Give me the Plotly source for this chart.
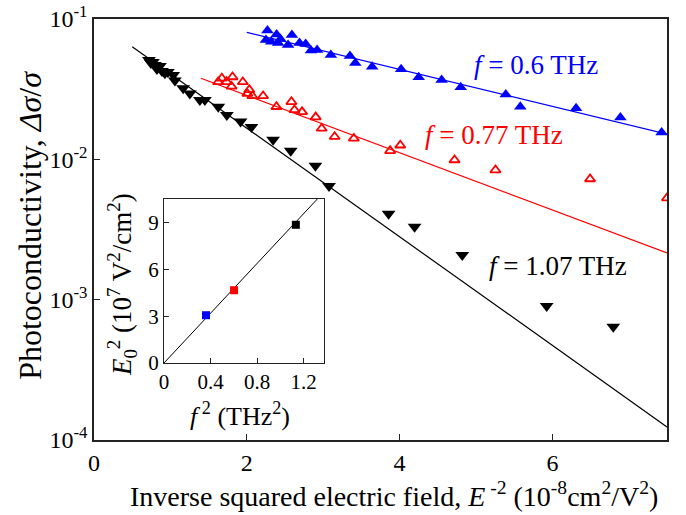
import plotly.graph_objects as go

# ---- main data ----
blue_x = [2.27, 2.39, 2.32, 2.44, 2.59, 2.54, 2.69, 2.84, 2.92, 3.10, 3.35, 3.42, 3.64,
          4.02, 4.25, 4.55, 4.80, 5.39, 5.58, 6.31, 6.89, 7.43, 2.25, 2.41, 2.77]
blue_y = [0.0828, 0.0776, 0.0689, 0.0720, 0.0769, 0.0653, 0.0675, 0.0596, 0.0601, 0.0554,
          0.0544, 0.0485, 0.0457, 0.0438, 0.0384, 0.0367, 0.0326, 0.0290, 0.0237, 0.0231,
          0.0199, 0.0155, 0.0708, 0.0675, 0.0664]

red_x = [1.625, 1.673, 1.735, 1.813, 1.800, 1.948, 2.033, 2.007, 2.072, 2.213, 2.388, 2.584,
         2.624, 2.723, 2.902, 2.980, 3.150, 3.401, 3.876, 4.009, 4.719, 5.255, 6.493, 7.50]
red_y = [0.0356, 0.0378, 0.0357, 0.0386, 0.0331, 0.0356, 0.0313, 0.0294, 0.0283, 0.0283,
         0.0237, 0.0257, 0.0225, 0.0218, 0.0200, 0.0166, 0.0145, 0.0141, 0.0115, 0.0126,
         0.00989, 0.00839, 0.00724, 0.00530]

black_x = [0.719, 0.745, 0.771, 0.797, 0.824, 0.863, 0.889, 0.928, 0.967, 1.037, 1.059, 1.167,
           1.255, 1.386, 1.451, 1.627, 1.739, 1.918, 2.061, 2.344, 2.575, 2.898, 3.076, 3.856,
           4.196, 4.820, 5.925, 6.797]
black_y = [0.0510, 0.0485, 0.0494, 0.0470, 0.0440, 0.0463, 0.0426, 0.0410, 0.0419, 0.0399,
           0.0364, 0.0321, 0.0295, 0.0265, 0.0265, 0.0237, 0.0207, 0.0186, 0.0170, 0.0138,
           0.0115, 0.00900, 0.00645, 0.00409, 0.00331, 0.00208, 0.000900, 0.000641]

# fit lines (end points)
fit_blue_x = [2.0, 7.5]
fit_blue_y = [0.0804, 0.0151]
fit_red_x = [1.40, 7.5]
fit_red_y = [0.0378, 0.00215]
fit_black_x = [0.5, 7.5]
fit_black_y = [0.0635, 0.000124]

# ---- inset data ----
inset_f2 = [0.361, 0.602, 1.133]
inset_E2 = [3.06, 4.66, 8.85]
inset_colors = ["#0000ff", "#ff0000", "#000000"]
inset_fit_x = [0, 1.32]
inset_fit_y = [0, 10.52]

x_ticks = [0, 2, 4, 6]
y_tickvals = [1e-4, 1e-3, 1e-2, 1e-1]
y_ticktext = ["10<sup>-4</sup>", "10<sup>-3</sup>", "10<sup>-2</sup>", "10<sup>-1</sup>"]
inset_xticks = [0, 0.4, 0.8, 1.2]
inset_xticktext = ["0", "0.4", "0.8", "1.2"]
inset_yticks = [0, 3, 6, 9]

FONT = "Liberation Serif, Times New Roman, serif"
AX = "#222222"

fig = go.Figure()

fig.add_trace(go.Scatter(x=fit_blue_x, y=fit_blue_y, mode="lines",
                         line=dict(color="#0000ff", width=1.2), showlegend=False))
fig.add_trace(go.Scatter(x=fit_red_x, y=fit_red_y, mode="lines",
                         line=dict(color="#ff0000", width=1.2), showlegend=False))
fig.add_trace(go.Scatter(x=fit_black_x, y=fit_black_y, mode="lines",
                         line=dict(color="#000000", width=1.2), showlegend=False))

fig.add_trace(go.Scatter(x=blue_x, y=blue_y, mode="markers",
                         marker=dict(symbol="triangle-up", size=11, color="#0000ff",
                                     line=dict(width=0)), showlegend=False, cliponaxis=False))
fig.add_trace(go.Scatter(x=red_x, y=red_y, mode="markers",
                         marker=dict(symbol="triangle-up-open", size=9, color="#ff0000",
                                     line=dict(width=1.8, color="#ff0000")), showlegend=False))
fig.add_trace(go.Scatter(x=black_x, y=black_y, mode="markers",
                         marker=dict(symbol="triangle-down", size=12, color="#000000",
                                     line=dict(width=0)), showlegend=False))

# inset
fig.add_trace(go.Scatter(x=inset_fit_x, y=inset_fit_y, mode="lines", xaxis="x2", yaxis="y2",
                         line=dict(color="#000000", width=1), showlegend=False))
fig.add_trace(go.Scatter(x=inset_f2, y=inset_E2, mode="markers", xaxis="x2", yaxis="y2",
                         marker=dict(symbol="square", size=8, color=inset_colors,
                                     line=dict(width=0)), showlegend=False))

fig.update_layout(
    template="none",
    width=686, height=515,
    margin=dict(l=94, r=19, t=19, b=75, autoexpand=False),
    paper_bgcolor="white", plot_bgcolor="white",
    font=dict(family=FONT, size=24, color="#000000"),
    xaxis=dict(range=[0, 7.5], tickvals=x_ticks, ticks="inside", ticklen=6,
               tickcolor=AX, showline=True, linecolor=AX, linewidth=1.5, mirror=True,
               showgrid=False, zeroline=False, tickfont=dict(size=24), automargin=False,
               ticklabeloverflow="allow"),
    yaxis=dict(type="log", range=[-4, -1], tickvals=y_tickvals, ticktext=y_ticktext,
               ticks="inside", ticklen=6, tickcolor=AX, showline=True, linecolor=AX,
               linewidth=1.5, mirror=True, showgrid=False, zeroline=False,
               tickfont=dict(size=24), automargin=False, ticklabeloverflow="allow"),
    xaxis2=dict(domain=[0.1222, 0.4014], anchor="y2", range=[0, 1.375],
                tickvals=inset_xticks, ticktext=inset_xticktext, ticks="inside", ticklen=5,
                tickcolor=AX, showline=True, linecolor=AX, linewidth=1.2, mirror=True,
                showgrid=False, zeroline=False, tickfont=dict(size=21), automargin=False),
    yaxis2=dict(domain=[0.1829, 0.5724], anchor="x2", range=[0, 10.5],
                tickvals=inset_yticks, ticks="inside", ticklen=5, tickcolor=AX,
                showline=True, linecolor=AX, linewidth=1.2, mirror=True,
                showgrid=False, zeroline=False, tickfont=dict(size=21), automargin=False),
    annotations=[
        dict(text="Inverse squared electric field, <i>E</i><sup> -2</sup> (10<sup>-8</sup>cm<sup>2</sup>/V<sup>2</sup>)",
             xref="paper", yref="paper", x=0.5227, y=-0.1306, xanchor="center",
             yanchor="middle", showarrow=False, font=dict(size=28, color="#000000")),
        dict(text="Photoconductivity, <i>Δσ</i>/<i>σ</i>",
             xref="paper", yref="paper", x=-0.1117, y=0.511, xanchor="center",
             yanchor="middle", textangle=-90, showarrow=False,
             font=dict(size=32, color="#000000")),
        dict(text="<i>E</i><sub>0</sub><sup>2</sup> (10<sup>7</sup> V<sup>2</sup>/cm<sup>2</sup>)",
             xref="paper", yref="paper", x=0.0489, y=0.368, xanchor="center",
             yanchor="middle", textangle=-90, showarrow=False,
             font=dict(size=27, color="#000000")),
        dict(text="<i>f</i><sup> 2</sup> (THz<sup>2</sup>)",
             xref="paper", yref="paper", x=0.2548, y=0.0594, xanchor="center",
             yanchor="middle", showarrow=False, font=dict(size=26, color="#000000")),
        dict(text="<i>f</i> = 0.6 THz", xref="paper", yref="paper", x=0.771, y=0.891,
             xanchor="center", yanchor="middle",
             showarrow=False, font=dict(size=27, color="#0000ff")),
        dict(text="<i>f</i> = 0.77 THz", xref="paper", yref="paper", x=0.698, y=0.7245,
             xanchor="center", yanchor="middle",
             showarrow=False, font=dict(size=27, color="#ff0000")),
        dict(text="<i>f</i> = 1.07 THz", xref="paper", yref="paper", x=0.809, y=0.4133,
             xanchor="center", yanchor="middle",
             showarrow=False, font=dict(size=27, color="#000000")),
    ],
)

# white background behind inset
fig.add_shape(type="rect", xref="paper", yref="paper", x0=0.1222, x1=0.4014,
              y0=0.1829, y1=0.5724, fillcolor="white", line=dict(width=0), layer="below")

fig.write_html("out.html", config={"displayModeBar": False},
               post_script="document.body.style.margin='0';document.body.style.padding='0';")
